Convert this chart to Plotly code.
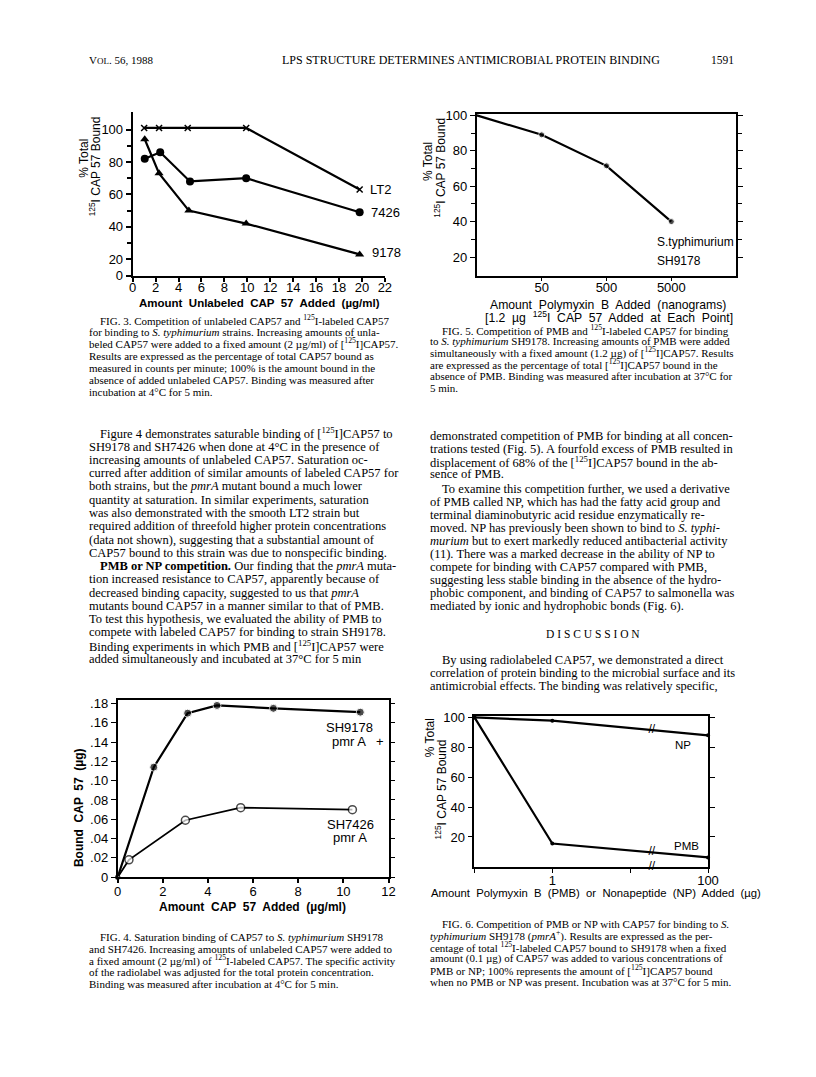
import numpy as np
import plotly.graph_objects as go

# the page body keeps its default 8px margin, so the figure is drawn
# 16px smaller and every position below is given in page pixels
PAGE_W, PAGE_H = 816, 1077
OFF = 8
W, H = PAGE_W - 2 * OFF, PAGE_H - 2 * OFF
SERIF = "Liberation Serif"
SANS = "Liberation Sans"


def fx(px):
    return (px - OFF) / W


def fy(py):
    return 1 - (py - OFF) / H


# Fig. 3 - competition of unlabeled CAP57 (x in ug/ml, y in % bound)
f3_lt2_x = [1.0, 2.3, 4.8, 9.9, 19.8]
f3_lt2_y = [101, 101, 101, 101, 63]
f3_7426_x = [1.05, 2.4, 5.0, 9.9, 19.8]
f3_7426_y = [82, 86, 68, 70, 49]
f3_9178_x = [1.05, 2.3, 4.9, 9.9, 19.8]
f3_9178_y = [94, 73, 50, 42, 23]

# Fig. 4 - saturation binding (x in ug/ml, y in ug bound)
f4_9178_x = [0, 1.6, 3.1, 4.4, 6.9, 10.75]
f4_9178_y = [0, 0.114, 0.170, 0.178, 0.175, 0.171]
f4_7426_x = [0, 0.5, 3.0, 5.45, 10.4]
f4_7426_y = [0, 0.018, 0.059, 0.072, 0.070]

# Fig. 5 - PMB competition (first point = no PMB, drawn on the axis)
f5_x = [5, 50, 500, 5000]
f5_y = [100, 89, 71.5, 40]

# Fig. 6 - PMB or NP (first point = none added, drawn on the axis)
f6_x = [0.1, 1, 100]
f6_np = [100, 97.8, 88]
f6_pmb = [100, 15.6, 6.3]
f6_break = 19

fig = go.Figure()

# ---- Fig 3
fig.add_trace(go.Scatter(x=f3_lt2_x, y=f3_lt2_y, mode="lines+markers",
                         line=dict(color="black", width=2.2),
                         marker=dict(symbol="x-thin", size=6, color="black",
                                     line=dict(color="black", width=1.5)),
                         xaxis="x", yaxis="y", cliponaxis=False))
fig.add_trace(go.Scatter(x=f3_7426_x, y=f3_7426_y, mode="lines+markers",
                         line=dict(color="black", width=2.2),
                         marker=dict(symbol="circle", size=8, color="black"),
                         xaxis="x", yaxis="y", cliponaxis=False))
fig.add_trace(go.Scatter(x=f3_9178_x, y=f3_9178_y, mode="lines+markers",
                         line=dict(color="black", width=2.2),
                         marker=dict(symbol="triangle-up", size=8, color="black"),
                         xaxis="x", yaxis="y", cliponaxis=False))

# ---- Fig 4
fig.add_trace(go.Scatter(x=f4_9178_x, y=f4_9178_y, mode="lines+markers",
                         line=dict(color="black", width=2.2),
                         marker=dict(symbol="circle", size=[4] + [8] * 5, color="black"),
                         xaxis="x2", yaxis="y2", cliponaxis=False))
fig.add_trace(go.Scatter(x=f4_7426_x, y=f4_7426_y, mode="lines+markers",
                         line=dict(color="black", width=1.8),
                         marker=dict(symbol="circle", size=[4] + [8] * 4, color="white",
                                     line=dict(color="black", width=1.5)),
                         xaxis="x2", yaxis="y2", cliponaxis=False))

# ---- Fig 5
fig.add_trace(go.Scatter(x=f5_x, y=f5_y, mode="lines+markers",
                         line=dict(color="black", width=2.2),
                         marker=dict(symbol="circle", size=[4, 6, 6, 6], color="black"),
                         xaxis="x3", yaxis="y3", cliponaxis=False))

# ---- Fig 6
for ys in (f6_np, f6_pmb):
    fig.add_trace(go.Scatter(x=f6_x, y=ys, mode="lines+markers",
                             line=dict(color="black", width=2.2),
                             marker=dict(symbol="circle", size=4, color="black"),
                             xaxis="x4", yaxis="y4", cliponaxis=False))
# axis-break marks on both lines and on the x axis
lx = np.log10(f6_x)
brk_y = [float(np.interp(np.log10(f6_break), lx, f6_np)),
         float(np.interp(np.log10(f6_break), lx, f6_pmb)), 0]
fig.add_trace(go.Scatter(x=[f6_break] * 3, y=brk_y, mode="text", text=["//"] * 3,
                         textfont=dict(family=SANS, size=12, color="black"),
                         xaxis="x4", yaxis="y4", cliponaxis=False))

tickfont = dict(family=SANS, size=13, color="black")
ax_common = dict(showgrid=False, zeroline=False, showline=True, linecolor="black",
                 ticks="outside", tickcolor="black", tickfont=tickfont)

fig.update_layout(
    width=W, height=H, margin=dict(l=0, r=0, t=0, b=0),
    paper_bgcolor="white", plot_bgcolor="rgba(0,0,0,0)", showlegend=False,
    xaxis=dict(ax_common, domain=[fx(131), fx(388)], range=[0, 22], anchor="y",
               tickvals=list(range(0, 23, 2)), linewidth=2, ticklen=4, tickwidth=1.5,
               ticklabelstandoff=-5),
    yaxis=dict(ax_common, domain=[fy(273), fy(107)], range=[10, 111], anchor="x",
               tickvals=[10, 20, 40, 60, 80, 100],
               ticktext=["0", "20", "40", "60", "80", "100"],
               minor=dict(tickvals=[30, 50, 70, 90], ticks="outside", ticklen=4,
                          tickcolor="black"),
               linewidth=2, ticklen=5, tickwidth=1.5),
    xaxis2=dict(ax_common, domain=[fx(115.7), fx(391.7)], range=[0, 12], anchor="y2",
                tickvals=list(range(0, 13, 2)), mirror=True, linewidth=1.8,
                ticklen=4, tickwidth=1.5, ticklabelstandoff=-3),
    yaxis2=dict(ax_common, domain=[fy(882.7), fy(703.3)], range=[0, 0.1835], anchor="x2",
                tickvals=[i * 0.02 for i in range(10)],
                ticktext=["0", ".02", ".04", ".06", ".08", ".10", ".12", ".14", ".16", ".18"],
                mirror="ticks", linewidth=1.8, ticklen=5, tickwidth=1.2),
    xaxis3=dict(ax_common, type="log", domain=[fx(481.7), fx(746)],
                range=[np.log10(5), np.log10(50000)], anchor="y3",
                tickvals=[50, 500, 5000], ticktext=["50", "500", "5000"],
                mirror=True, linewidth=1.8, ticklen=3, tickwidth=1.2,
                ticklabelstandoff=-4),
    yaxis3=dict(ax_common, domain=[fy(273.3), fy(108.9)], range=[9.4, 101], anchor="x3",
                tickvals=[20, 40, 60, 80, 100],
                minor=dict(tickvals=[30, 50, 70, 90], ticks="outside", ticklen=4,
                           tickcolor="black"),
                mirror="ticks", linewidth=1.8, ticklen=5, tickwidth=1.2),
    xaxis4=dict(ax_common, type="log", domain=[fx(479.3), fx(717.3)], range=[-1, 2],
                anchor="y4", tickvals=[0.1, 1, 10, 100], ticktext=["", "1", "", "100"],
                mirror=True, linewidth=1.8, ticklen=4, tickwidth=1.2,
                ticklabelstandoff=-3),
    yaxis4=dict(ax_common, domain=[fy(872.3), fy(719.3)], range=[0, 101], anchor="x4",
                tickvals=[20, 40, 60, 80, 100], mirror="ticks", linewidth=1.8,
                ticklen=5, tickwidth=1.2),
)

annotations = []


def txt(x, y, s, size=12.5, anchor="left", family=SERIF, angle=0, color="black"):
    annotations.append(dict(xref="paper", yref="paper", x=fx(x), y=fy(y), text=s,
                            showarrow=False, xanchor=anchor, yanchor="middle",
                            textangle=angle,
                            font=dict(family=family, size=size, color=color)))


def block(lines, x0, y0, step, size, indent=(0,), ind=12):
    for i, s in enumerate(lines):
        txt(x0 + (ind if i in indent else 0), y0 + i * step, s, size=size)


# page header
txt(84, 55, "V<span style='font-size:9px'>OL</span>. 56, 1988", size=11)
txt(476, 55, "LPS STRUCTURE DETERMINES ANTIMICROBIAL PROTEIN BINDING", size=12,
    anchor="center")
txt(746, 55, "1591", size=11.5, anchor="right")

# chart labels
txt(371, 186, "LT2", size=13, family=SANS)
txt(372, 209, "7426", size=13, family=SANS)
txt(373, 250, "9178", size=13, family=SANS)
txt(81, 154, "% Total", size=12, family=SANS, angle=-90, anchor="center")
txt(93, 162, "<sup>125</sup>I CAP 57 Bound", size=12, family=SANS, angle=-90,
    anchor="center")
txt(260, 301, "<b>Amount  Unlabeled  CAP  57  Added  (µg/ml)</b>", size=11.5,
    family=SANS, anchor="center")

txt(663, 239, "S.typhimurium", size=12, family=SANS)
txt(663, 258, "SH9178", size=12, family=SANS)
txt(432, 158, "% Total", size=12, family=SANS, angle=-90, anchor="center")
txt(444, 164, "<sup>125</sup>I CAP 57 Bound", size=12, family=SANS, angle=-90,
    anchor="center")
txt(615, 303, "Amount  Polymyxin  B  Added  (nanograms)", size=12.2, family=SANS,
    anchor="center")
txt(616, 315, "[1.2  µg  <sup>125</sup>I  CAP  57  Added  at  Each  Point]", size=12.2,
    family=SANS, anchor="center")

txt(326, 731, "SH9178", size=13, family=SANS)
txt(332, 745, "pmr A   +", size=13, family=SANS)
txt(327, 829, "SH7426", size=13, family=SANS)
txt(333, 843, "pmr A", size=13, family=SANS)
txt(77, 812, "<b>Bound  CAP  57  (µg)</b>", size=12, family=SANS, angle=-90,
    anchor="center")
txt(253, 913, "<b>Amount  CAP  57  Added  (µg/ml)</b>", size=12, family=SANS,
    anchor="center")

txt(682, 749, "NP", size=11.5, family=SANS)
txt(681, 851, "PMB", size=11.5, family=SANS)
txt(434, 742, "% Total", size=12, family=SANS, angle=-90, anchor="center")
txt(445, 794, "<sup>125</sup>I CAP 57 Bound", size=12, family=SANS, angle=-90,
    anchor="center")
txt(603, 899, "Amount  Polymyxin  B  (PMB)  or  Nonapeptide  (NP)  Added  (µg)",
    size=11.3, family=SANS, anchor="center")

# captions
cap3 = [
    "FIG. 3. Competition of unlabeled CAP57 and <sup>125</sup>I-labeled CAP57",
    "for binding to <i>S. typhimurium</i> strains. Increasing amounts of unla-",
    "beled CAP57 were added to a fixed amount (2 µg/ml) of [<sup>125</sup>I]CAP57.",
    "Results are expressed as the percentage of total CAP57 bound as",
    "measured in counts per minute; 100% is the amount bound in the",
    "absence of added unlabeled CAP57. Binding was measured after",
    "incubation at 4°C for 5 min.",
]
cap4 = [
    "FIG. 4. Saturation binding of CAP57 to <i>S. typhimurium</i> SH9178",
    "and SH7426. Increasing amounts of unlabeled CAP57 were added to",
    "a fixed amount (2 µg/ml) of <sup>125</sup>I-labeled CAP57. The specific activity",
    "of the radiolabel was adjusted for the total protein concentration.",
    "Binding was measured after incubation at 4°C for 5 min.",
]
cap5 = [
    "FIG. 5. Competition of PMB and <sup>125</sup>I-labeled CAP57 for binding",
    "to <i>S. typhimurium</i> SH9178. Increasing amounts of PMB were added",
    "simultaneously with a fixed amount (1.2 µg) of [<sup>125</sup>I]CAP57. Results",
    "are expressed as the percentage of total [<sup>125</sup>I]CAP57 bound in the",
    "absence of PMB. Binding was measured after incubation at 37°C for",
    "5 min.",
]
cap6 = [
    "FIG. 6. Competition of PMB or NP with CAP57 for binding to <i>S.</i>",
    "<i>typhimurium</i> SH9178 (<i>pmrA</i><sup>+</sup>). Results are expressed as the per-",
    "centage of total <sup>125</sup>I-labeled CAP57 bound to SH9178 when a fixed",
    "amount (0.1 µg) of CAP57 was added to various concentrations of",
    "PMB or NP; 100% represents the amount of [<sup>125</sup>I]CAP57 bound",
    "when no PMB or NP was present. Incubation was at 37°C for 5 min.",
]
block(cap3, 84, 318, 12.2, 11)
block(cap4, 84, 943, 12.1, 11)
block(cap5, 432, 328, 11.7, 11)
block(cap6, 432, 930, 11.8, 11)

body_left = [
    "Figure 4 demonstrates saturable binding of [<sup>125</sup>I]CAP57 to",
    "SH9178 and SH7426 when done at 4°C in the presence of",
    "increasing amounts of unlabeled CAP57. Saturation oc-",
    "curred after addition of similar amounts of labeled CAP57 for",
    "both strains, but the <i>pmrA</i> mutant bound a much lower",
    "quantity at saturation. In similar experiments, saturation",
    "was also demonstrated with the smooth LT2 strain but",
    "required addition of threefold higher protein concentrations",
    "(data not shown), suggesting that a substantial amount of",
    "CAP57 bound to this strain was due to nonspecific binding.",
    "<b>PMB or NP competition.</b> Our finding that the <i>pmrA</i> muta-",
    "tion increased resistance to CAP57, apparently because of",
    "decreased binding capacity, suggested to us that <i>pmrA</i>",
    "mutants bound CAP57 in a manner similar to that of PMB.",
    "To test this hypothesis, we evaluated the ability of PMB to",
    "compete with labeled CAP57 for binding to strain SH9178.",
    "Binding experiments in which PMB and [<sup>125</sup>I]CAP57 were",
    "added simultaneously and incubated at 37°C for 5 min",
]
block(body_left, 84, 433, 13.45, 12.5, indent=(0, 10))

body_right1 = [
    "demonstrated competition of PMB for binding at all concen-",
    "trations tested (Fig. 5). A fourfold excess of PMB resulted in",
    "displacement of 68% of the [<sup>125</sup>I]CAP57 bound in the ab-",
    "sence of PMB.",
]
body_right2 = [
    "To examine this competition further, we used a derivative",
    "of PMB called NP, which has had the fatty acid group and",
    "terminal diaminobutyric acid residue enzymatically re-",
    "moved. NP has previously been shown to bind to <i>S. typhi-</i>",
    "<i>murium</i> but to exert markedly reduced antibacterial activity",
    "(11). There was a marked decrease in the ability of NP to",
    "compete for binding with CAP57 compared with PMB,",
    "suggesting less stable binding in the absence of the hydro-",
    "phobic component, and binding of CAP57 to salmonella was",
    "mediated by ionic and hydrophobic bonds (Fig. 6).",
]
body_right3 = [
    "By using radiolabeled CAP57, we demonstrated a direct",
    "correlation of protein binding to the microbial surface and its",
    "antimicrobial effects. The binding was relatively specific,",
]
block(body_right1, 432, 436, 12.8, 12.5, indent=())
block(body_right2, 432, 489, 13.2, 12.5)
txt(600, 636, "D I S C U S S I O N", size=11.5, anchor="center")
block(body_right3, 432, 663, 12.9, 12.5)

fig.update_layout(annotations=annotations)
fig.write_html("out.html")
